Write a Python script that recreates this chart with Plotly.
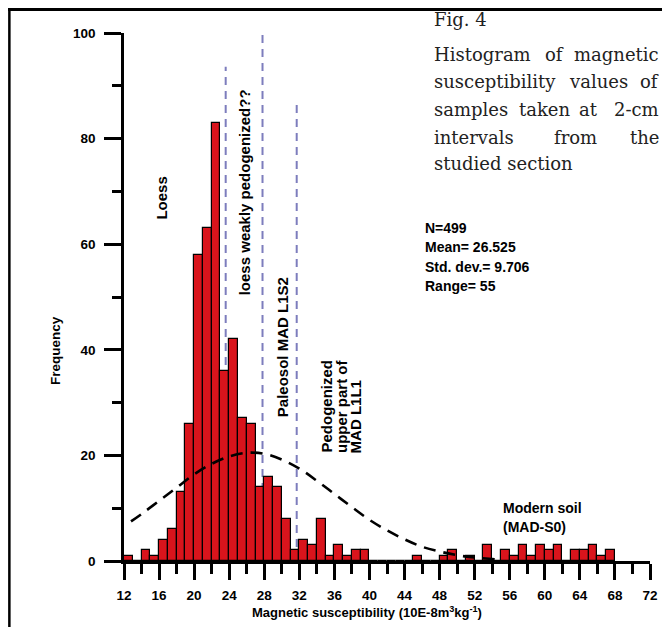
import plotly.graph_objects as go

# ---------------- data ----------------
bin_left = list(range(12, 68))          # 1-unit bins 12..67
counts = [1, 0, 2, 1, 4, 6, 13, 26, 58, 63, 83, 36, 42, 27, 26, 14,
          16, 14, 8, 2, 4, 3, 8, 1, 3, 1, 2, 2,            # 12..39
          0, 0, 0, 0, 0, 1, 0, 0, 1, 2, 0, 1, 0, 3,        # 40..53
          0, 2, 1, 3, 1, 3, 2, 3, 0, 2, 2, 3, 1, 2]        # 54..67

# fitted normal curve
curve_x = [12.8, 14, 16, 18, 20, 22, 24, 26, 28, 30, 32, 34, 36, 38, 40,
           42, 44, 46, 48, 50, 52, 54, 54.5]
curve_y = [7.5, 8.9, 11.4, 13.9, 16.4, 18.4, 19.8, 20.5, 20.3, 19.2, 17.5,
           15.2, 12.7, 10.2, 7.8, 5.8, 4.1, 2.7, 1.8, 1.1, 0.65, 0.37, 0.3]

# boundaries (vertical dashed lines)
bound_x = [23.6, 27.8, 31.7]
bound_top = [93.6, 99.6, 87.5]

x_ticks = list(range(12, 73, 4))
y_ticks = list(range(0, 101, 20))

stats = ["N=499", "Mean= 26.525", "Std. dev.= 9.706", "Range= 55"]

# ---------------- layout helpers ----------------
OFF = 8                      # page body margin of the html page
W, H = 670 - OFF, 627 - OFF
PX0, PX1, PY0, PY1 = 124.3, 652, 561, 33   # plot area in page pixels
L = PX0 - OFF
R = W - (PX1 - OFF)
T = PY1 - OFF
B = H - (PY0 - OFF)
PW, PH = PX1 - PX0, PY0 - PY1


def px(xp):
    return (xp - PX0) / PW


def py(yp):
    return (PY0 - yp) / PH


SANS = "Liberation Sans, Arial, sans-serif"
SERIF = "DejaVu Serif, serif"

fig = go.Figure()

fig.add_trace(go.Bar(
    x=[b + 0.5 for b in bin_left], y=counts, width=1,
    marker=dict(color="#d9141c", line=dict(color="black", width=1.2)),
    showlegend=False, hoverinfo="x+y"))

fig.add_trace(go.Scatter(
    x=curve_x, y=curve_y, mode="lines",
    line=dict(color="black", width=2.6, dash="12px,8px", shape="spline"),
    showlegend=False))

shapes = []
for bx, bt in zip(bound_x, bound_top):
    shapes.append(dict(type="line", xref="x", yref="y", x0=bx, x1=bx,
                       y0=0, y1=bt, layer="below",
                       line=dict(color="#7d7dbd", width=2, dash="8px,6px")))
# figure frame (top and left border)
shapes.append(dict(type="line", xref="paper", yref="paper",
                   x0=px(OFF), x1=px(670), y0=py(OFF + 1.5), y1=py(OFF + 1.5),
                   line=dict(color="black", width=3)))
shapes.append(dict(type="line", xref="paper", yref="paper",
                   x0=px(OFF + 1.3), x1=px(OFF + 1.3), y0=py(OFF), y1=py(627),
                   line=dict(color="black", width=2.5)))

ann = []


def label(text, xp, yp, size=15, angle=0, xa="center", ya="middle",
          family=SANS, color="black", bold=True):
    ann.append(dict(text=text, x=px(xp), y=py(yp), xref="paper", yref="paper",
                    showarrow=False, textangle=angle, xanchor=xa, yanchor=ya,
                    font=dict(family=family, size=size, color=color,
                              weight="bold" if bold else "normal")))


# region labels
label("Loess", 161, 198, angle=-90)
label("loess weakly pedogenized??", 245, 192, angle=-90)
label("Paleosol MAD L1S2", 283, 347, angle=-90)
label("Pedogenized", 327, 455, angle=-90, ya="bottom")
label("upper part of", 342, 455, angle=-90, ya="bottom")
label("MAD L1L1", 357, 455, angle=-90, ya="bottom")
label("Modern soil", 503, 508, xa="left", size=14)
label("(MAD-S0)", 503, 527, xa="left", size=14)

# statistics
for s, yy in zip(stats, [228, 247, 267, 286]):
    label(s, 424, yy, size=14, xa="left")

# axis titles
label("Frequency", 55, 350, size=13.5, angle=-90)
label("Magnetic susceptibility (10E-8m<sup>3</sup>kg<sup>-1</sup>)", 368, 612,
      size=13)

# caption (justified serif text)
CAP = "#222222"
label("Fig. 4", 433, 20, size=18, xa="left", family=SERIF, color=CAP, bold=False)
caption_lines = [
    (54.5, [("Histogram", 433, "left"), ("of", 555.8, "center"),
            ("magnetic", 663, "right")]),
    (82, [("susceptibility", 433, "left"), ("values", 600, "center"),
          ("of", 663, "right")]),
    (109.5, [("samples", 433, "left"), ("taken", 546.5, "center"),
             ("at", 590.8, "center"), ("2-cm", 663, "right")]),
    (137, [("intervals", 433, "left"), ("from", 577.3, "center"),
           ("the", 663, "right")]),
    (164, [("studied section", 433, "left")]),
]
for yy, words in caption_lines:
    for w, xx, xa in words:
        label(w, xx, yy, size=18, xa=xa, family=SERIF, color=CAP, bold=False)

fig.update_layout(
    width=W, height=H,
    margin=dict(l=L, r=R, t=T, b=B, pad=0),
    paper_bgcolor="white", plot_bgcolor="white",
    bargap=0, shapes=shapes, annotations=ann,
    font=dict(family=SANS, color="black"),
)
fig.update_xaxes(
    range=[12, 72], tickmode="array", tickvals=x_ticks,
    ticktext=[str(v) for v in x_ticks],
    ticks="outside", ticklen=16, tickwidth=2.5, tickcolor="black",
    showline=True, linewidth=2.5, linecolor="black",
    showgrid=False, zeroline=False, ticklabelstandoff=4,
    tickfont=dict(family=SANS, size=13.5, weight="bold"),
    minor=dict(tickmode="linear", tick0=12, dtick=2, ticks="outside",
               ticklen=10, tickwidth=2.5, tickcolor="black", showgrid=False),
)
fig.update_yaxes(
    range=[0, 100], tickmode="array", tickvals=y_ticks,
    ticktext=[str(v) for v in y_ticks],
    ticks="outside", ticklen=17, tickwidth=2.5, tickcolor="black",
    showline=True, linewidth=2.5, linecolor="black",
    showgrid=False, zeroline=False, ticklabelstandoff=6,
    tickfont=dict(family=SANS, size=13.5, weight="bold"),
    minor=dict(tickmode="linear", tick0=0, dtick=10, ticks="outside",
               ticklen=9, tickwidth=2.5, tickcolor="black", showgrid=False),
)

fig.write_html("out.html")
